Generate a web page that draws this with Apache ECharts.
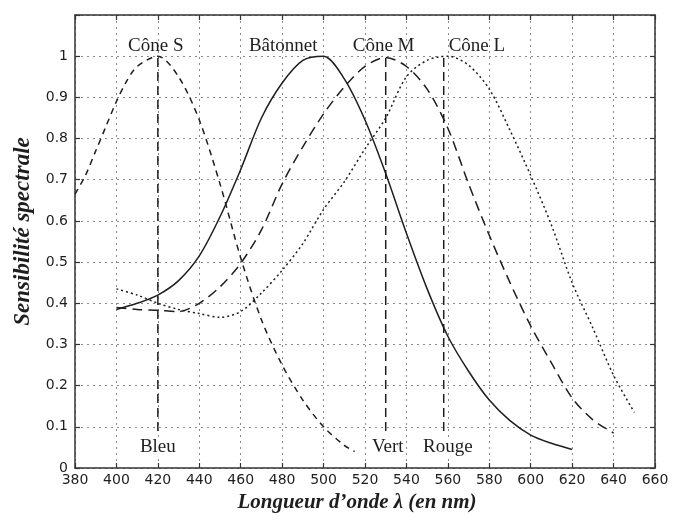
<!DOCTYPE html>
<html>
<head>
<meta charset="utf-8">
<script src="https://cdn.jsdelivr.net/npm/echarts@6/dist/echarts.min.js"></script>
<style>
  html, body { margin: 0; padding: 0; background: #fff; }
  #chart { width: 673px; height: 523px; }
</style>
</head>
<body>
<div id="chart"></div>
<script>
// Spectral sensitivity of the photoreceptors (normalised)
const wavelengthsS = [380, 385, 390, 395, 400, 405, 410, 420, 430, 440, 450, 460, 470, 480, 490, 500, 510, 515];
const coneS = [0.665, 0.71, 0.77, 0.83, 0.89, 0.94, 0.975, 1.0, 0.95, 0.845, 0.69, 0.51, 0.36, 0.25, 0.165, 0.1, 0.055, 0.04];

const wavelengthsRod = [400, 410, 420, 430, 440, 450, 460, 470, 480, 490, 500, 510, 520, 530, 540, 550, 560, 570, 580, 590, 600, 610, 620];
const batonnet = [0.385, 0.40, 0.42, 0.455, 0.515, 0.61, 0.725, 0.85, 0.935, 0.99, 1.0, 0.945, 0.845, 0.715, 0.57, 0.435, 0.32, 0.235, 0.165, 0.115, 0.08, 0.06, 0.045];

const wavelengthsM = [400, 410, 420, 430, 440, 450, 460, 470, 480, 490, 500, 510, 520, 530, 540, 550, 560, 570, 580, 590, 600, 610, 620, 630, 640];
const coneM = [0.39, 0.385, 0.383, 0.38, 0.40, 0.44, 0.497, 0.578, 0.69, 0.78, 0.86, 0.925, 0.975, 0.997, 0.975, 0.92, 0.825, 0.69, 0.565, 0.45, 0.345, 0.255, 0.17, 0.117, 0.085];

const wavelengthsL = [400, 410, 420, 430, 440, 450, 460, 470, 480, 490, 500, 510, 520, 530, 540, 550, 560, 570, 580, 590, 600, 610, 620, 630, 640, 650];
const coneL = [0.435, 0.42, 0.40, 0.385, 0.375, 0.366, 0.38, 0.425, 0.48, 0.545, 0.628, 0.695, 0.775, 0.85, 0.95, 0.99, 1.0, 0.978, 0.92, 0.82, 0.71, 0.59, 0.45, 0.34, 0.225, 0.135];

// Peak wavelengths of the three primaries
const primaryNames = ['Bleu', 'Vert', 'Rouge'];
const primaryWavelengths = [420, 530, 558];
const primaryLineRange = [0.09, 1.0];

// Curve names written above the peaks
const curveNames = ['Cône S', 'Bâtonnet', 'Cône M', 'Cône L'];
const curveNameWavelengths = [419, 480.5, 529, 574];
const curveNameLevel = 1.025;
const primaryNameLevel = 0.05;
const primaryNameWavelengths = [420, 531, 560];

// Axis ranges and ticks
const xMin = 380, xMax = 660, xStep = 20;
const yMin = 0, yMax = 1.1, yStep = 0.1;

const ink = '#1e1e1e';
const serif = '"Liberation Serif", "DejaVu Serif", serif';
const sans = '"DejaVu Sans", "Liberation Sans", sans-serif';

const zip = (xs, ys) => xs.map((x, i) => [x, ys[i]]);

function curve(name, xs, ys, dash) {
  return {
    name: name,
    type: 'line',
    data: zip(xs, ys),
    smooth: 0.3,
    symbol: 'none',
    lineStyle: { color: ink, width: 1.5, type: dash },
    z: 3
  };
}

const series = [
  curve('Cône S', wavelengthsS, coneS, [6, 5]),
  curve('Bâtonnet', wavelengthsRod, batonnet, 'solid'),
  curve('Cône M', wavelengthsM, coneM, [10, 6]),
  curve('Cône L', wavelengthsL, coneL, [2, 3])
];

primaryWavelengths.forEach((nm, i) => {
  series.push({
    name: primaryNames[i] + ' (pic)',
    type: 'line',
    data: [[nm, primaryLineRange[0]], [nm, primaryLineRange[1]]],
    symbol: 'none',
    lineStyle: { color: ink, width: 1.5, type: [9, 5] },
    z: 2
  });
});

const textLabel = {
  show: true, position: 'inside', formatter: p => p.name,
  fontFamily: serif, fontSize: 19, color: ink,
  textBorderWidth: 0, opacity: 1
};

series.push({
  type: 'scatter',
  symbolSize: 0,
  itemStyle: { color: 'rgba(0,0,0,0)' },
  data: curveNames.map((n, i) => ({ value: [curveNameWavelengths[i], curveNameLevel], name: n })),
  label: textLabel,
  z: 5
});

series.push({
  type: 'scatter',
  symbolSize: 0,
  itemStyle: { color: 'rgba(0,0,0,0)' },
  data: primaryNames.map((n, i) => ({ value: [primaryNameWavelengths[i], primaryNameLevel], name: n })),
  label: Object.assign({}, textLabel, { backgroundColor: '#fff', padding: [0, 1] }),
  z: 5
});

const gridLine = { show: true, lineStyle: { color: '#8a8a8a', type: [2, 4], width: 1 } };
const frameLine = { show: true, onZero: false, lineStyle: { color: '#333', width: 1.5 } };
const innerTick = { show: true, inside: true, length: 5, lineStyle: { color: '#333', width: 1.2 } };

const chart = echarts.init(document.getElementById('chart'), null, { renderer: 'canvas' });
chart.setOption({
  backgroundColor: '#ffffff',
  animation: false,
  grid: { left: 75, right: 18, top: 15, bottom: 55 },
  xAxis: [
    {
      type: 'value', min: xMin, max: xMax, interval: xStep,
      name: 'Longueur d\u2019onde \u03bb (en nm)',
      nameLocation: 'middle', nameGap: 11,
      nameTextStyle: {
        fontFamily: serif, fontStyle: 'italic', fontWeight: 'bold', fontSize: 21, color: ink,
        verticalAlign: 'top', padding: [0, 16, 0, 0]
      },
      axisLine: frameLine, axisTick: innerTick,
      axisLabel: { color: ink, fontFamily: sans, fontSize: 14, margin: 5 },
      splitLine: gridLine
    },
    {
      type: 'value', min: xMin, max: xMax, interval: xStep, position: 'top',
      axisLine: frameLine, axisTick: innerTick,
      axisLabel: { show: false }, splitLine: { show: false }
    }
  ],
  yAxis: [
    {
      type: 'value', min: yMin, max: yMax, interval: yStep,
      name: 'Sensibilité spectrale',
      nameLocation: 'middle', nameGap: 40,
      nameTextStyle: {
        fontFamily: serif, fontStyle: 'italic', fontWeight: 'bold', fontSize: 23, color: ink,
        padding: [0, 0, 0, 20]
      },
      axisLine: frameLine, axisTick: innerTick,
      axisLabel: {
        color: ink, fontFamily: sans, fontSize: 14, margin: 7,
        formatter: v => (v > 1.0001 ? '' : String(Math.round(v * 10) / 10))
      },
      splitLine: gridLine
    },
    {
      type: 'value', min: yMin, max: yMax, interval: yStep, position: 'right',
      axisLine: frameLine, axisTick: innerTick,
      axisLabel: { show: false }, splitLine: { show: false }
    }
  ],
  series: series
});
</script>
</body>
</html>
